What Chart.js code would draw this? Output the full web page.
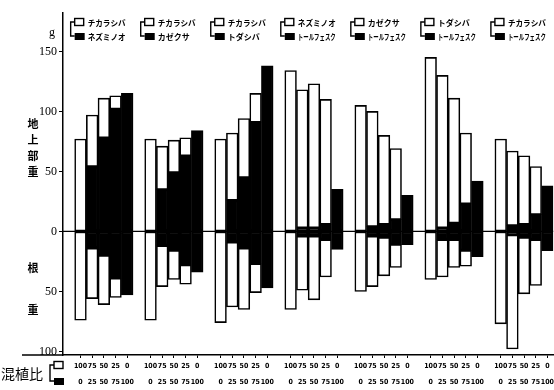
<!DOCTYPE html>
<html>
<head>
<meta charset="utf-8">
<script src="https://cdn.jsdelivr.net/npm/chart.js@4"></script>
<style>
  html, body { margin: 0; padding: 0; background: #fff; }
  #wrap { width: 554px; height: 390px; position: relative; }
</style>
</head>
<body>
<div id="wrap"><canvas id="mix-chart"></canvas></div>
<script>
// white = first species, black = second species of each pair
var speciesA = ["チカラシバ", "チカラシバ", "チカラシバ", "ネズミノオ", "カゼクサ", "トダシバ", "チカラシバ"];
var speciesB = ["ネズミノオ", "カゼクサ", "トダシバ", "トールフェスク", "トールフェスク", "トールフェスク", "トールフェスク"];
var ratioA = ["100", "75", "50", "25", "0"];
var ratioB = ["0", "25", "50", "75", "100"];
var yTicks = [-100, -50, 0, 50, 100, 150];

// above-ground weight (g), per pair, per mixing ratio
var shootA = [
  [77, 43, 33, 11, 0],
  [77, 36, 27, 15, 0],
  [77, 56, 49, 24, 0],
  [134, 115, 120, 104, 0],
  [105, 96, 74, 59, 0],
  [145, 127, 104, 59, 0],
  [77, 62, 57, 40, 0]
];
var shootB = [
  [0, 54, 78, 102, 115],
  [0, 35, 49, 63, 84],
  [0, 26, 45, 91, 138],
  [0, 3, 3, 6, 35],
  [0, 4, 6, 10, 30],
  [0, 3, 7, 23, 42],
  [0, 5, 6, 14, 38]
];
// root weight (g)
var rootA = [
  [74, 42, 41, 16, 0],
  [74, 34, 24, 16, 0],
  [76, 54, 51, 24, 0],
  [65, 45, 53, 31, 0],
  [50, 42, 32, 19, 0],
  [40, 31, 23, 13, 0],
  [77, 95, 47, 38, 0]
];
var rootB = [
  [0, 14, 20, 39, 53],
  [0, 12, 16, 28, 34],
  [0, 9, 14, 27, 47],
  [0, 4, 4, 7, 15],
  [0, 4, 5, 11, 11],
  [0, 7, 7, 16, 21],
  [0, 3, 5, 7, 16]
];

// one empty slot before each group of five bars
var labels = [], dShootA = [], dShootB = [], dRootA = [], dRootB = [];
for (var g = 0; g < speciesA.length; g++) {
  labels.push("");
  dShootA.push(null); dShootB.push(null); dRootA.push(null); dRootB.push(null);
  for (var j = 0; j < 5; j++) {
    labels.push([ratioA[j], ratioB[j]]);
    dShootB.push(shootB[g][j] || null);
    dShootA.push(shootA[g][j] || null);
    dRootB.push(rootB[g][j] ? -rootB[g][j] : null);
    dRootA.push(rootA[g][j] ? -rootA[g][j] : null);
  }
}

function bars(label, values, fill) {
  return {
    label: label,
    data: values,
    stack: "s",
    backgroundColor: fill,
    borderColor: "#000",
    borderWidth: 1.6,
    borderSkipped: false,
    categoryPercentage: 1,
    barPercentage: 1
  };
}

var decor = {
  id: "decor",
  afterDatasetsDraw: function (chart) {
    var c = chart.ctx, a = chart.chartArea;
    var y0 = chart.scales.y.getPixelForValue(0);
    c.save();
    c.strokeStyle = "#000";
    c.lineWidth = 1.3;
    c.beginPath();
    c.moveTo(a.left, y0); c.lineTo(a.right, y0);
    c.moveTo(22, a.bottom); c.lineTo(a.left, a.bottom);
    c.stroke();
    c.restore();
  },
  afterDraw: function (chart) {
    var c = chart.ctx, xs = chart.scales.x;
    var slot = xs.getPixelForValue(1) - xs.getPixelForValue(0);
    c.save();
    c.fillStyle = "#000";
    c.strokeStyle = "#000";

    function pairKey(bx, yTop, yBot) {
      c.lineWidth = 1.4;
      c.beginPath();
      c.moveTo(bx + 4, yTop + 2); c.lineTo(bx, yTop + 2);
      c.lineTo(bx, yBot + 3); c.lineTo(bx + 4, yBot + 3);
      c.stroke();
      c.strokeRect(bx + 4, yTop - 1.5, 9, 7);
      c.fillRect(bx + 4, yBot, 10, 7);
    }

    // pair legends above each group
    c.font = "bold 8px 'Noto Sans CJK JP'";
    c.textBaseline = "middle";
    c.textAlign = "left";
    for (var g = 0; g < speciesA.length; g++) {
      var bx = xs.getPixelForValue(g * 6 + 1) - slot / 2 - 4;
      pairKey(bx, 20, 33);
      c.fillText(speciesA[g], bx + 17, 23, 38);
      c.fillText(speciesB[g], bx + 17, 37, 38);
    }

    // mixing ratio key, bottom left
    pairKey(50, 363, 378);
    c.font = "14px 'Noto Sans CJK JP'";
    c.fillText("混植比", 1, 374);

    // axis captions
    c.font = "12px 'Liberation Serif'";
    c.textAlign = "center";
    c.fillText("g", 52, 33);
    c.font = "bold 11px 'Noto Sans CJK JP'";
    var up = ["地", "上", "部", "重"];
    for (var k = 0; k < up.length; k++) c.fillText(up[k], 33, 124 + k * 16);
    c.fillText("根", 33, 268);
    c.fillText("重", 33, 310);
    c.restore();
  }
};

var ctx = document.getElementById("mix-chart").getContext("2d");
var config = {
  type: "bar",
  data: {
    labels: labels,
    datasets: [
      bars("shootB", dShootB, "#000"),
      bars("shootA", dShootA, "#fff"),
      bars("rootB", dRootB, "#000"),
      bars("rootA", dRootA, "#fff")
    ]
  },
  options: {
    responsive: true,
    maintainAspectRatio: false,
    animation: false,
    layout: { padding: { top: 13, right: 0, left: 0, bottom: 0 } },
    plugins: { legend: { display: false }, tooltip: { enabled: false } },
    scales: {
      x: {
        stacked: true,
        afterFit: function (scale) { scale.height = 35; },
        border: { color: "#000", width: 1.5 },
        grid: {
          drawOnChartArea: false,
          offset: false,
          tickLength: 3,
          color: function (c) { return c.index % 6 === 0 ? "rgba(0,0,0,0)" : "#000"; }
        },
        ticks: {
          autoSkip: false,
          maxRotation: 0,
          padding: 0,
          color: "#000",
          font: { family: "'DejaVu Sans Condensed'", size: 7, weight: "bold", lineHeight: 2.3 }
        }
      },
      y: {
        stacked: true,
        min: -103,
        max: 182,
        afterFit: function (scale) { scale.width = 63; },
        afterBuildTicks: function (scale) {
          scale.ticks = yTicks.map(function (v) { return { value: v }; });
        },
        border: { color: "#000", width: 1.5 },
        grid: { drawOnChartArea: false, tickLength: 4, color: "#000" },
        ticks: {
          padding: 2,
          color: "#000",
          font: { family: "'Liberation Serif'", size: 12 },
          callback: function (value) { return Math.abs(value); }
        }
      }
    }
  },
  plugins: [decor]
};

var chart = new Chart(ctx, config);
</script>
</body>
</html>
